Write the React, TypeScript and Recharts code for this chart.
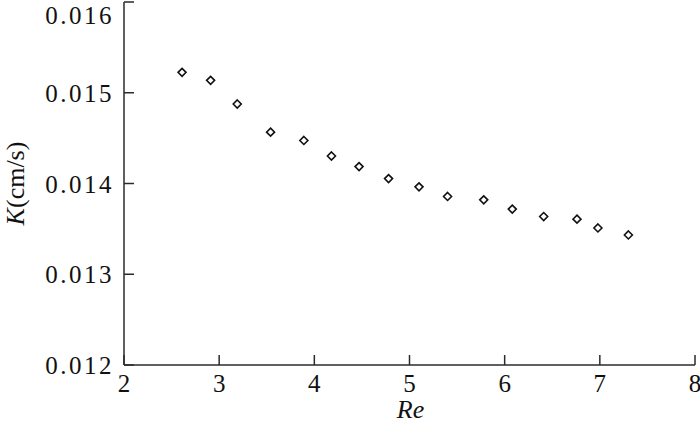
import React from "react";
import { ScatterChart, Scatter, XAxis, YAxis } from "recharts";

const reValues = [2.61, 2.91, 3.19, 3.54, 3.89, 4.18, 4.47, 4.78, 5.1, 5.4, 5.78, 6.08, 6.41, 6.76, 6.98, 7.3];
const kValues = [
  0.015225, 0.015137, 0.014876, 0.014566, 0.014474, 0.014303, 0.014186, 0.014054,
  0.013963, 0.013857, 0.01382, 0.013718, 0.013636, 0.013607, 0.01351, 0.013433,
];
const xTicks = [2, 3, 4, 5, 6, 7, 8];
const yTicks = [0.012, 0.013, 0.014, 0.015, 0.016];

const data = reValues.map((re, i) => ({ re, k: kValues[i] }));

const FONT = "Liberation Serif, Times New Roman, serif";
const INK = "#2b2b2b";

const XTick = (props: any) => {
  const { x, y, payload } = props;
  return (
    <g>
      <line x1={x} y1={y} x2={x} y2={y - 10} stroke={INK} strokeWidth={1.5} />
      <text x={x} y={y + 27} textAnchor="middle" fontFamily={FONT} fontSize={25} fill="#111">
        {payload.value}
      </text>
    </g>
  );
};

const YTick = (props: any) => {
  const { x, y, payload } = props;
  // the top label sits just below the axis end, as in the reference
  const ty = Math.max(y + 9, 24);
  return (
    <g>
      <line x1={x} y1={y} x2={x + 10} y2={y} stroke={INK} strokeWidth={1.5} />
      <text
        x={x - 10}
        y={ty}
        textAnchor="end"
        fontFamily={FONT}
        fontSize={25}
        letterSpacing={2.5}
        fill="#111"
      >
        {Number(payload.value).toFixed(3)}
      </text>
    </g>
  );
};

const XLabel = (props: any) => {
  const { viewBox } = props;
  const cx = viewBox.x + viewBox.width / 2 + 1;
  return (
    <text x={cx} y={viewBox.y + 53} textAnchor="middle" fontFamily={FONT} fontSize={26} fontStyle="italic" fill="#111">
      Re
    </text>
  );
};

const YLabel = (props: any) => {
  const { viewBox } = props;
  const cy = viewBox.y + viewBox.height / 2;
  const lx = 24;
  return (
    <text
      x={lx}
      y={cy}
      transform={`rotate(-90 ${lx} ${cy})`}
      textAnchor="middle"
      fontFamily={FONT}
      fontSize={26}
      fill="#111"
    >
      <tspan fontStyle="italic">K</tspan>
      <tspan>(cm/s)</tspan>
    </text>
  );
};

const Diamond = (props: any) => {
  const { cx, cy } = props;
  const r = 4;
  return (
    <polygon
      points={`${cx},${cy - r} ${cx + r},${cy} ${cx},${cy + r} ${cx - r},${cy}`}
      fill="#fff"
      stroke="#111"
      strokeWidth={1.6}
    />
  );
};

export default function App() {
  return (
    <div style={{ position: "absolute", left: 0, top: 0, width: 700, height: 426, background: "#fff" }}>
      <ScatterChart width={700} height={426} margin={{ top: 2, right: 5, bottom: 0, left: 0 }}>
        <XAxis
          type="number"
          dataKey="re"
          domain={[2, 8]}
          ticks={xTicks}
          interval={0}
          tickSize={0}
          tickMargin={0}
          tickLine={false}
          height={61}
          axisLine={{ stroke: INK, strokeWidth: 1.5 }}
          tick={<XTick />}
          label={<XLabel />}
        />
        <YAxis
          type="number"
          dataKey="k"
          domain={[0.012, 0.016]}
          ticks={yTicks}
          interval={0}
          tickSize={0}
          tickMargin={0}
          tickLine={false}
          width={124}
          axisLine={{ stroke: INK, strokeWidth: 1.5 }}
          tick={<YTick />}
          label={<YLabel />}
        />
        <Scatter data={data} shape={<Diamond />} isAnimationActive={false} />
      </ScatterChart>
    </div>
  );
}
